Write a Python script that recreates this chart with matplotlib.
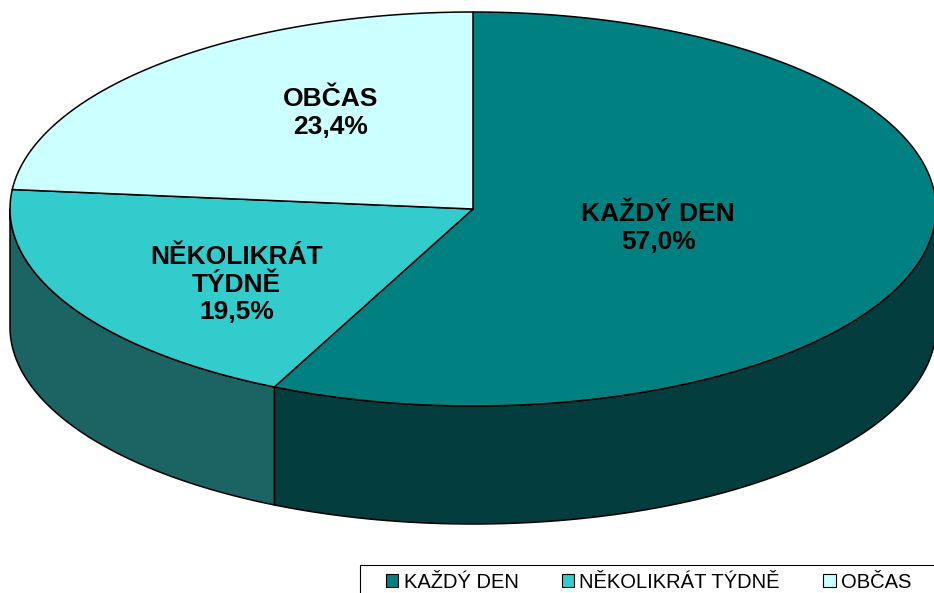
import numpy as np
import matplotlib
matplotlib.use("Agg")
import matplotlib.pyplot as plt
from matplotlib.patches import Polygon, Patch, Rectangle

categories = ["KAŽDÝ DEN", "NĚKOLIKRÁT TÝDNĚ", "OBČAS"]
label_names = ["KAŽDÝ DEN", "NĚKOLIKRÁT\nTÝDNĚ", "OBČAS"]
values = [57.0, 19.5, 23.4]

top_colors = ["#008080", "#33CCCC", "#CCFFFF"]
side_colors = ["#033D3D", "#1C6464", "#668080"]
label_frac = [(0.41, 0.43), (0.587, 0.78), (0.457, 0.66)]

plt.rcParams['font.family'] = ['Liberation Sans', 'DejaVu Sans']

W, H = 934, 593
fig = plt.figure(figsize=(W / 100, H / 100), dpi=100)
ax = fig.add_axes([0, 0, 1, 1])
ax.set_xlim(0, W)
ax.set_ylim(H, 0)
ax.axis("off")

cx, cy, a, b, depth = 473.0, 209.0, 463.0, 197.0, 118.0
lw = 1.1


def ell(t_deg, dy=0.0):
    t = np.radians(t_deg)
    return np.column_stack([cx + a * np.cos(t), cy - b * np.sin(t) + dy])


total = sum(values)
starts, ends = [], []
ang = 90.0
for v in values:
    sweep = 360.0 * v / total
    starts.append(ang)
    ends.append(ang - sweep)
    ang -= sweep

# side walls (front half only)
for i in range(len(values)):
    s, e = starts[i], ends[i]
    for lo_w, hi_w in [(-180.0, 0.0), (180.0, 360.0)]:
        lo, hi = max(e, lo_w), min(s, hi_w)
        if hi - lo <= 0:
            continue
        t = np.linspace(hi, lo, 200)
        top = ell(t)
        bot = ell(t[::-1], depth)
        poly = Polygon(np.vstack([top, bot]), closed=True, facecolor=side_colors[i],
                       edgecolor="black", linewidth=lw, joinstyle="round")
        ax.add_patch(poly)

# top faces
for i in range(len(values)):
    t = np.linspace(starts[i], ends[i], 300)
    pts = np.vstack([[cx, cy], ell(t)])
    poly = Polygon(pts, closed=True, facecolor=top_colors[i], edgecolor="black",
                   linewidth=lw, joinstyle="round")
    ax.add_patch(poly)

# labels
for i in range(len(values)):
    mid = np.radians((starts[i] + ends[i]) / 2)
    fx, fy = label_frac[i]
    x = cx + a * fx * np.cos(mid)
    y = cy - b * fy * np.sin(mid)
    txt = f"{label_names[i]}\n{values[i]:.1f}%".replace(".", ",")
    ax.text(x, y, txt, ha="center", va="center", fontsize=19, fontweight="bold",
            linespacing=1.2, color="black")

# legend frame (extends beyond the image edge as in the reference)
ax.add_patch(Rectangle((360, 565), 600, 60, facecolor="white", edgecolor="black",
                       linewidth=0.8, zorder=5))

handles = [Patch(facecolor=c, edgecolor="black", linewidth=0.8) for c in top_colors]
leg = fig.legend(handles, categories, loc="center left",
                 bbox_to_anchor=(386 / W, 1 - 582 / H), ncol=3, fontsize=14.5,
                 frameon=False, borderpad=0,
                 handlelength=0.62, handleheight=0.62, handletextpad=0.25,
                 columnspacing=2.15, borderaxespad=0)

fig.savefig("out.png", dpi=100)
